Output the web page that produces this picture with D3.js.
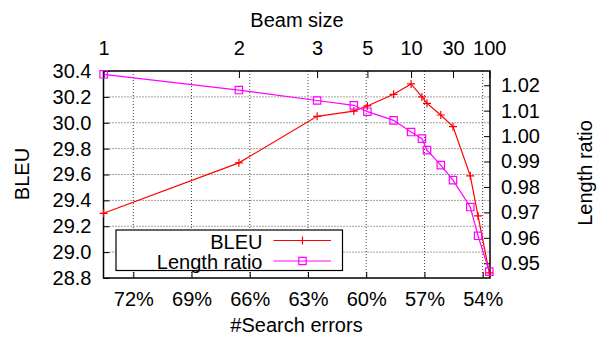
<!DOCTYPE html>
<html>
<head>
<meta charset="utf-8">
<script src="https://cdn.jsdelivr.net/npm/d3@7"></script>
<style>
  html, body { margin: 0; padding: 0; background: #fff; overflow: hidden; }
  svg { display: block; }
  svg text { font-family: "Liberation Sans", Arial, sans-serif; fill: #000; }
</style>
</head>
<body>
<div id="chart"></div>
<script>
// data
const beamSizes = [1, 2, 3, 4, 5, 7, 10, 12, 15, 20, 30, 50, 70, 100];
const searchErrors = [73.53, 66.56, 62.53, 60.64, 59.94, 58.59, 57.69, 57.13, 56.87, 56.16, 55.53, 54.64, 54.24, 53.66];
const bleu = [29.30, 29.69, 30.05, 30.09, 30.13, 30.22, 30.30, 30.20, 30.15, 30.06, 29.97, 29.59, 29.28, 28.84];
const lengthRatio = [1.0243, 1.0181, 1.0140, 1.0121, 1.0096, 1.0062, 1.0016, 0.9990, 0.9945, 0.9886, 0.9827, 0.9721, 0.9608, 0.9467];

const errorTicks = [72, 69, 66, 63, 60, 57, 54];
const beamTicks = [1, 2, 3, 5, 10, 30, 100];
const bleuTicks = [28.8, 29.0, 29.2, 29.4, 29.6, 29.8, 30.0, 30.2, 30.4];
const ratioTicks = [0.95, 0.96, 0.97, 0.98, 0.99, 1.00, 1.01, 1.02];

const width = 597, height = 338;
const margins = { top: 71, right: 107, bottom: 60, left: 103.5 };
const innerWidth = width - margins.left - margins.right;
const innerHeight = height - margins.top - margins.bottom;
const fontSize = 20;
const fontFamily = '"Liberation Sans", Arial, sans-serif';

const svg = d3.select('#chart')
    .append('svg')
    .attr('width', width)
    .attr('height', height)
    .attr('font-family', fontFamily)
    .attr('font-size', fontSize);

const g = svg.append('g')
    .attr('transform', `translate(${margins.left},${margins.top})`);

const x = d3.scaleLinear()
    .domain([73.535, 53.624])
    .range([0, innerWidth]);
const y = d3.scaleLinear()
    .domain([28.8, 30.4])
    .range([innerHeight, 0]);
const y2 = d3.scaleLinear()
    .domain([0.9442, 1.0256])
    .range([innerHeight, 0]);

const points = beamSizes.map((b, i) => ({
    beam: b, err: searchErrors[i], bleu: bleu[i], ratio: lengthRatio[i]
}));

// grid
g.append('g')
    .selectAll('line')
    .data(bleuTicks.filter(d => d > 28.8 && d < 30.4))
    .join('line')
    .attr('x1', 0).attr('x2', innerWidth)
    .attr('y1', d => y(d)).attr('y2', d => y(d))
    .attr('stroke', '#444').attr('stroke-width', 1)
    .attr('stroke-dasharray', '1,2');
g.append('g')
    .selectAll('line')
    .data(errorTicks)
    .join('line')
    .attr('x1', d => x(d)).attr('x2', d => x(d))
    .attr('y1', 0).attr('y2', innerHeight)
    .attr('stroke', '#444').attr('stroke-width', 1)
    .attr('stroke-dasharray', '1,2');

// axes (ticks pointing inward, like gnuplot)
const bottomAxis = g.append('g')
    .attr('transform', `translate(0,${innerHeight})`)
    .call(d3.axisBottom(x).tickValues(errorTicks).tickSize(-6).tickPadding(14)
        .tickFormat(d => d + '%'));
const beamPos = b => x(searchErrors[beamSizes.indexOf(b)]);
const topAxis = g.append('g')
    .call(d3.axisTop(d3.scaleIdentity().domain([0, innerWidth]))
        .tickValues(beamTicks.map(beamPos)).tickSize(-7).tickPadding(16)
        .tickFormat((d, i) => beamTicks[i]));
const leftAxis = g.append('g')
    .call(d3.axisLeft(y).tickValues(bleuTicks).tickSize(-6).tickPadding(12)
        .tickFormat(d3.format('.1f')));
const rightAxis = g.append('g')
    .attr('transform', `translate(${innerWidth},0)`)
    .call(d3.axisRight(y2).tickValues(ratioTicks).tickSize(-6).tickPadding(11)
        .tickFormat(d3.format('.2f')));

[bottomAxis, topAxis, leftAxis, rightAxis].forEach(a => {
    a.attr('font-size', fontSize).attr('font-family', fontFamily);
    a.select('.domain').remove();
    a.selectAll('line').attr('stroke', '#000');
});

// frame
g.append('rect')
    .attr('width', innerWidth).attr('height', innerHeight)
    .attr('fill', 'none').attr('stroke', '#000').attr('stroke-width', 1.5);

// series
const bleuColor = '#ff0000', ratioColor = '#ff00ff';
g.append('path')
    .datum(points)
    .attr('fill', 'none').attr('stroke', bleuColor).attr('stroke-width', 1.2)
    .attr('d', d3.line().x(d => x(d.err)).y(d => y(d.bleu)));
g.append('path')
    .datum(points)
    .attr('fill', 'none').attr('stroke', ratioColor).attr('stroke-width', 1.2)
    .attr('d', d3.line().x(d => x(d.err)).y(d => y2(d.ratio)));

const plusPath = 'M-4,0H4M0,-4V4';
const squarePath = 'M-3.7,-3.7H3.7V3.7H-3.7Z';
g.append('g').selectAll('path')
    .data(points)
    .join('path')
    .attr('transform', d => `translate(${x(d.err)},${y(d.bleu)})`)
    .attr('d', plusPath)
    .attr('fill', 'none').attr('stroke', bleuColor).attr('stroke-width', 1.2);
g.append('g').selectAll('path')
    .data(points)
    .join('path')
    .attr('transform', d => `translate(${x(d.err)},${y2(d.ratio)})`)
    .attr('d', squarePath)
    .attr('fill', 'none').attr('stroke', ratioColor).attr('stroke-width', 1.2);

// legend
const legend = g.append('g')
    .attr('transform', `translate(${116 - margins.left},${230 - margins.top})`);
legend.append('rect')
    .attr('width', 226.5).attr('height', 40.5)
    .attr('fill', '#fff').attr('stroke', '#000').attr('stroke-width', 1.2);
const legendItems = [
    { name: 'BLEU', color: bleuColor, mark: plusPath },
    { name: 'Length ratio', color: ratioColor, mark: squarePath }
];
const rows = legend.selectAll('g.row')
    .data(legendItems)
    .join('g')
    .attr('class', 'row')
    .attr('transform', (_, i) => `translate(0,${10.5 + i * 20.5})`);
rows.append('text')
    .attr('x', 146.5).attr('y', 8)
    .attr('text-anchor', 'end')
    .text(d => d.name);
rows.append('line')
    .attr('x1', 157.5).attr('x2', 215)
    .attr('stroke', d => d.color).attr('stroke-width', 1.2);
rows.append('path')
    .attr('transform', 'translate(186.5,0)')
    .attr('d', d => d.mark)
    .attr('fill', 'none').attr('stroke', d => d.color).attr('stroke-width', 1.2);

// titles
svg.append('text')
    .attr('x', 297).attr('y', 26.5)
    .attr('text-anchor', 'middle')
    .text('Beam size');
svg.append('text')
    .attr('x', 296.5).attr('y', 332)
    .attr('text-anchor', 'middle')
    .text('#Search errors');
svg.append('text')
    .attr('transform', 'translate(29,174) rotate(-90)')
    .attr('text-anchor', 'middle')
    .text('BLEU');
svg.append('text')
    .attr('transform', 'translate(592,173) rotate(-90)')
    .attr('text-anchor', 'middle')
    .text('Length ratio');
</script>
</body>
</html>
